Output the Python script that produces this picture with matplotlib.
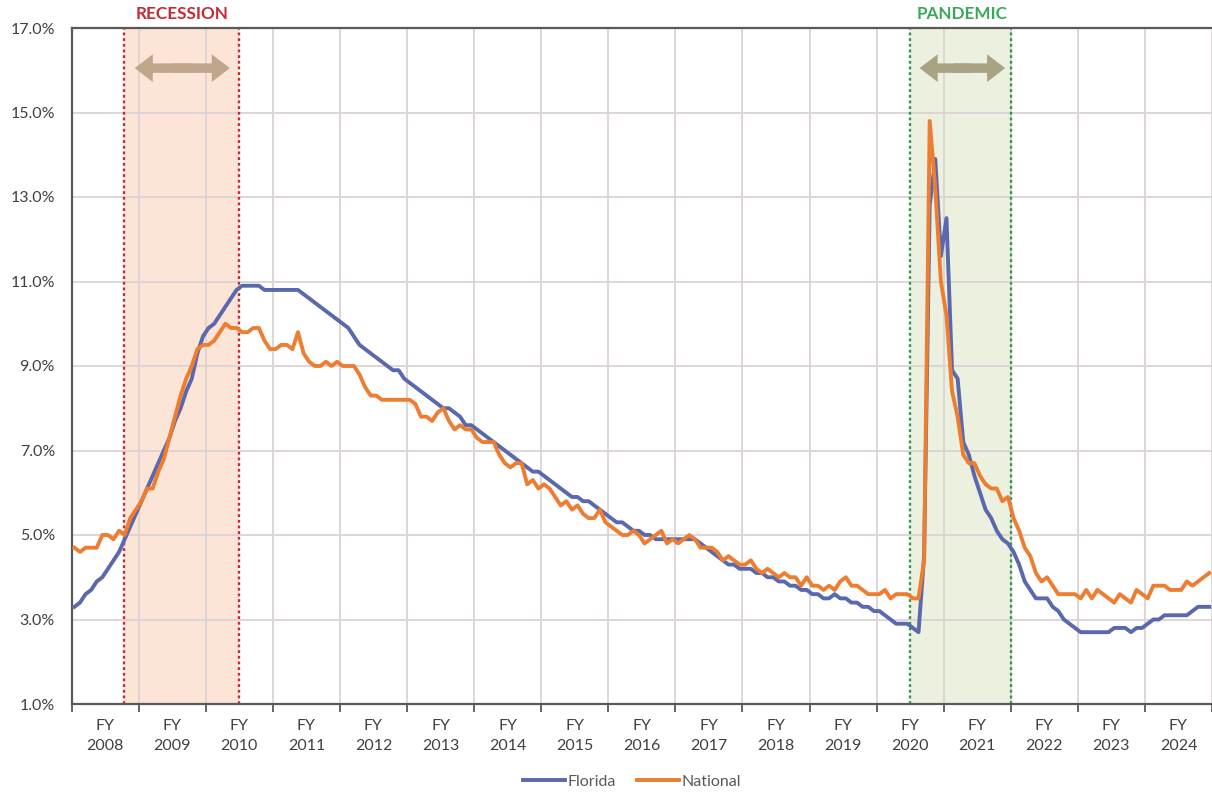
import numpy as np
import matplotlib
matplotlib.use("Agg")
import matplotlib.pyplot as plt
from matplotlib.patches import FancyArrowPatch, ArrowStyle

# ---------------- data (monthly, July 2007 .. June 2024) ----------------
fiscal_years = list(range(2008, 2025))
fy_labels = [f"FY\n{y}" for y in fiscal_years]

florida = [
    3.3, 3.4, 3.6, 3.7, 3.9, 4.0, 4.2, 4.4, 4.6, 4.9, 5.2, 5.5,          # FY2008
    5.8, 6.1, 6.4, 6.7, 7.0, 7.3, 7.7, 8.0, 8.4, 8.7, 9.3, 9.7,          # FY2009
    9.9, 10.0, 10.2, 10.4, 10.6, 10.8, 10.9, 10.9, 10.9, 10.9, 10.8, 10.8,  # FY2010
    10.8, 10.8, 10.8, 10.8, 10.8, 10.7, 10.6, 10.5, 10.4, 10.3, 10.2, 10.1,  # FY2011
    10.0, 9.9, 9.7, 9.5, 9.4, 9.3, 9.2, 9.1, 9.0, 8.9, 8.9, 8.7,         # FY2012
    8.6, 8.5, 8.4, 8.3, 8.2, 8.1, 8.0, 8.0, 7.9, 7.8, 7.6, 7.6,          # FY2013
    7.5, 7.4, 7.3, 7.2, 7.1, 7.0, 6.9, 6.8, 6.7, 6.6, 6.5, 6.5,          # FY2014
    6.4, 6.3, 6.2, 6.1, 6.0, 5.9, 5.9, 5.8, 5.8, 5.7, 5.6, 5.5,          # FY2015
    5.4, 5.3, 5.3, 5.2, 5.1, 5.1, 5.0, 5.0, 4.9, 4.9, 4.9, 4.9,          # FY2016
    4.9, 4.9, 4.9, 4.9, 4.8, 4.7, 4.6, 4.5, 4.4, 4.3, 4.3, 4.2,          # FY2017
    4.2, 4.2, 4.1, 4.1, 4.0, 4.0, 3.9, 3.9, 3.8, 3.8, 3.7, 3.7,          # FY2018
    3.6, 3.6, 3.5, 3.5, 3.6, 3.5, 3.5, 3.4, 3.4, 3.3, 3.3, 3.2,          # FY2019
    3.2, 3.1, 3.0, 2.9, 2.9, 2.9, 2.8, 2.7, 4.5, 12.8, 13.9, 11.6,       # FY2020
    12.5, 8.9, 8.7, 7.2, 6.9, 6.4, 6.0, 5.6, 5.4, 5.1, 4.9, 4.8,         # FY2021
    4.6, 4.3, 3.9, 3.7, 3.5, 3.5, 3.5, 3.3, 3.2, 3.0, 2.9, 2.8,          # FY2022
    2.7, 2.7, 2.7, 2.7, 2.7, 2.7, 2.8, 2.8, 2.8, 2.7, 2.8, 2.8,          # FY2023
    2.9, 3.0, 3.0, 3.1, 3.1, 3.1, 3.1, 3.1, 3.2, 3.3, 3.3, 3.3,          # FY2024
]

national = [
    4.7, 4.6, 4.7, 4.7, 4.7, 5.0, 5.0, 4.9, 5.1, 5.0, 5.4, 5.6,          # FY2008
    5.8, 6.1, 6.1, 6.5, 6.8, 7.3, 7.8, 8.3, 8.7, 9.0, 9.4, 9.5,          # FY2009
    9.5, 9.6, 9.8, 10.0, 9.9, 9.9, 9.8, 9.8, 9.9, 9.9, 9.6, 9.4,         # FY2010
    9.4, 9.5, 9.5, 9.4, 9.8, 9.3, 9.1, 9.0, 9.0, 9.1, 9.0, 9.1,          # FY2011
    9.0, 9.0, 9.0, 8.8, 8.5, 8.3, 8.3, 8.2, 8.2, 8.2, 8.2, 8.2,          # FY2012
    8.2, 8.1, 7.8, 7.8, 7.7, 7.9, 8.0, 7.7, 7.5, 7.6, 7.5, 7.5,          # FY2013
    7.3, 7.2, 7.2, 7.2, 6.9, 6.7, 6.6, 6.7, 6.7, 6.2, 6.3, 6.1,          # FY2014
    6.2, 6.1, 5.9, 5.7, 5.8, 5.6, 5.7, 5.5, 5.4, 5.4, 5.6, 5.3,          # FY2015
    5.2, 5.1, 5.0, 5.0, 5.1, 5.0, 4.8, 4.9, 5.0, 5.1, 4.8, 4.9,          # FY2016
    4.8, 4.9, 5.0, 4.9, 4.7, 4.7, 4.7, 4.6, 4.4, 4.5, 4.4, 4.3,          # FY2017
    4.3, 4.4, 4.2, 4.1, 4.2, 4.1, 4.0, 4.1, 4.0, 4.0, 3.8, 4.0,          # FY2018
    3.8, 3.8, 3.7, 3.8, 3.7, 3.9, 4.0, 3.8, 3.8, 3.7, 3.6, 3.6,          # FY2019
    3.6, 3.7, 3.5, 3.6, 3.6, 3.6, 3.5, 3.5, 4.4, 14.8, 13.2, 11.0,       # FY2020
    10.2, 8.4, 7.8, 6.9, 6.7, 6.7, 6.4, 6.2, 6.1, 6.1, 5.8, 5.9,         # FY2021
    5.4, 5.1, 4.7, 4.5, 4.1, 3.9, 4.0, 3.8, 3.6, 3.6, 3.6, 3.6,          # FY2022
    3.5, 3.7, 3.5, 3.7, 3.6, 3.5, 3.4, 3.6, 3.5, 3.4, 3.7, 3.6,          # FY2023
    3.5, 3.8, 3.8, 3.8, 3.7, 3.7, 3.7, 3.9, 3.8, 3.9, 4.0, 4.1,          # FY2024
]

y_ticks = [1, 3, 5, 7, 9, 11, 13, 15, 17]

# event periods, in months from July 2007
recession_span = (9.3, 30.0)
pandemic_span = (149.9, 168.0)
recession_arrow = (11.3, 28.3)
pandemic_arrow = (151.7, 167.0)

# ---------------- styling ----------------
FONT = ["Lato", "DejaVu Sans"]
plt.rcParams["font.family"] = FONT
C_FL = "#5A69AD"
C_US = "#ED7D31"
C_AXIS = "#595959"
C_TXT = "#404040"
C_GRID = "#DCD3D3"

W, H = 1212, 792
fig = plt.figure(figsize=(W / 100, H / 100), dpi=100)
left_px, top_px, bottom_px = 71.6, 28, 704
ax = fig.add_axes([left_px / W, 1 - bottom_px / H, 1 - left_px / W, (bottom_px - top_px) / H])

months_per_px = 1 / 5.627
ax.set_xlim(0, (W - left_px) * months_per_px)
ax.set_ylim(1, 17)

x = np.arange(len(florida)) + 0.5
ax.set_axisbelow("line")

# shaded event periods
ax.axvspan(*recession_span, color="#FCE4D6", zorder=0.8, lw=0)
ax.axvspan(*pandemic_span, color="#EBF1DE", zorder=0.8, lw=0)
for xv in recession_span:
    ax.axvline(xv, color="#C62A35", lw=1.7, ls=(0, (1.2, 1.2)), zorder=1.8)
for xv in pandemic_span:
    ax.axvline(xv, color="#2E9A48", lw=1.7, ls=(0, (1.2, 1.2)), zorder=1.8)

# lines
ax.plot(x, florida, color=C_FL, lw=2.8, label="Florida", zorder=3, solid_joinstyle="round")
ax.plot(x, national, color=C_US, lw=2.8, label="National", zorder=4, solid_joinstyle="round")

# axes ticks
n_years = len(fiscal_years)
ax.set_xticks(np.arange(0, 12 * n_years + 1, 12))
ax.set_xticklabels([])
ax.set_xticks(np.arange(6, 12 * n_years, 12), minor=True)
ax.set_xticklabels(fy_labels, minor=True, fontsize=11.5, color=C_TXT, linespacing=1.62)
ax.tick_params(axis="x", which="major", direction="out", length=6, width=1.3, color=C_AXIS)
ax.tick_params(axis="x", which="minor", length=0, pad=10.5)

ax.set_yticks(y_ticks)
ax.set_yticklabels([f"{v:.1f}%" for v in y_ticks], fontsize=11.5, color=C_TXT)
ax.tick_params(axis="y", length=0, pad=12)

ax.grid(True, which="major", color=C_GRID, lw=1.3)

for side in ("left", "bottom", "top"):
    ax.spines[side].set_color(C_AXIS)
    ax.spines[side].set_linewidth(1.6)
ax.spines["right"].set_visible(False)

# arrows (two overlapping half-arrows -> double-headed arrow)
def double_arrow(span, y, color):
    a, b = span
    style = ArrowStyle.Simple(head_length=1.3, head_width=2.0, tail_width=0.68)
    ax.add_patch(FancyArrowPatch((a + 0.6 * (b - a), y), (a, y), arrowstyle=style,
                                 mutation_scale=10, color=color, lw=0,
                                 shrinkA=0, shrinkB=0, zorder=2.5))
    ax.add_patch(FancyArrowPatch((a + 0.4 * (b - a), y), (b, y), arrowstyle=style,
                                 mutation_scale=10, color=color, lw=0,
                                 shrinkA=0, shrinkB=0, zorder=2.5))

double_arrow(recession_arrow, 16.05, "#BFA68A")
double_arrow(pandemic_arrow, 16.05, "#A9A383")

ax.text(0.5 * (recession_arrow[0] + recession_arrow[1]), 17.33, "RECESSION", ha="center",
        va="center", color="#C62A35", fontsize=12.3, fontweight="bold", clip_on=False)
ax.text(0.5 * (pandemic_arrow[0] + pandemic_arrow[1]), 17.33, "PANDEMIC", ha="center",
        va="center", color="#3AA85A", fontsize=12.3, fontweight="bold", clip_on=False)

fig.legend(loc="center", bbox_to_anchor=(632 / W, 1 - 782 / H), ncol=2, frameon=False,
           fontsize=11.5, handlelength=2.6, handletextpad=0.15, columnspacing=1.35,
           labelcolor=C_AXIS)

fig.savefig("out.png", dpi=100, facecolor="white")
